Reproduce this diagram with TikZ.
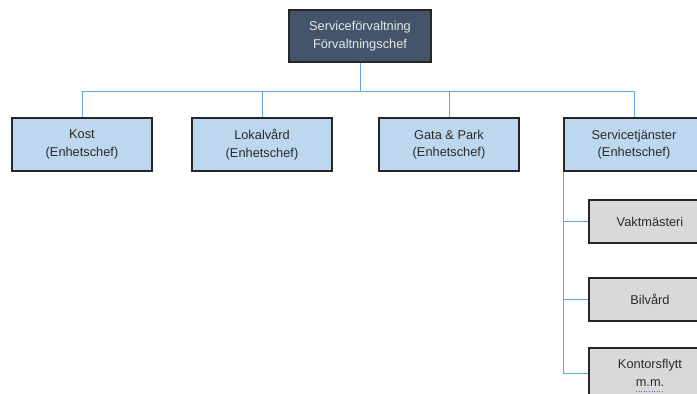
\documentclass[tikz,border=0pt]{standalone}
\usepackage{fontspec}
\setmainfont{Liberation Sans}
\definecolor{topfill}{HTML}{44546A}
\definecolor{toptext}{HTML}{E6E6E6}
\definecolor{bluefill}{HTML}{BDD7EE}
\definecolor{grayfill}{HTML}{D9D9D9}
\definecolor{linkcol}{HTML}{62A6E6}
\definecolor{textcol}{HTML}{2B2B2B}
\definecolor{spellcol}{HTML}{6A5ACD}
\tikzset{
  box/.style={draw=black!85, line width=1.3pt, align=center, inner sep=0pt,
    font=\fontsize{12.8}{17.5}\selectfont, text=textcol},
  topbox/.style={box, fill=topfill, text=toptext, minimum width=142pt, minimum height=52pt},
  unitbox/.style={box, fill=bluefill, minimum width=140pt, minimum height=53pt},
  subbox/.style={box, fill=grayfill, minimum width=122pt, minimum height=43pt},
  link/.style={draw=linkcol, line width=1pt},
}
\begin{document}
\begin{tikzpicture}[x=1pt,y=-1pt]
\useasboundingbox (0,0) rectangle (697,394);
\clip (0,0) rectangle (697,394);
\fill[white] (0,0) rectangle (697,394);
\coordinate (bus) at (0,91);
\node[topbox] (top) at (360,36) {Serviceförvaltning\\Förvaltningschef};
\node[unitbox] (kost) at (82,144.5) {Kost\\(Enhetschef)};
\node[unitbox] (lok) at (262,144.5) {Lokalvård\\(Enhetschef)};
\node[unitbox] (gata) at (449,144.5) {Gata \& Park\\(Enhetschef)};
\node[unitbox] (serv) at (634,144.5) {Servicetjänster\\(Enhetschef)};
\node[subbox] (vakt) at (650,221.5) {Vaktmästeri};
\node[subbox] (bil) at (650,299.5) {Bilvård};
\node[subbox, minimum height=50pt] (kont) at (650,373) {Kontorsflytt\\m.m.};
\draw[link] (top.south) -- (top.south |- bus);
\draw[link] (kost.north) -- (kost.north |- bus) -- (serv.north |- bus) -- (serv.north);
\draw[link] (lok.north) -- (lok.north |- bus);
\draw[link] (gata.north) -- (gata.north |- bus);
\draw[link] (serv.south west) ++(0.5,0) |- (kont.west);
\draw[link] (serv.south west |- vakt.west) -- (vakt.west);
\draw[link] (serv.south west |- bil.west) -- (bil.west);
\coordinate (ul1) at (636,391);
\coordinate (ul2) at (664,391);
\draw[spellcol, line width=0.6pt, dotted] (ul1) -- (ul2);
\end{tikzpicture}
\end{document}
